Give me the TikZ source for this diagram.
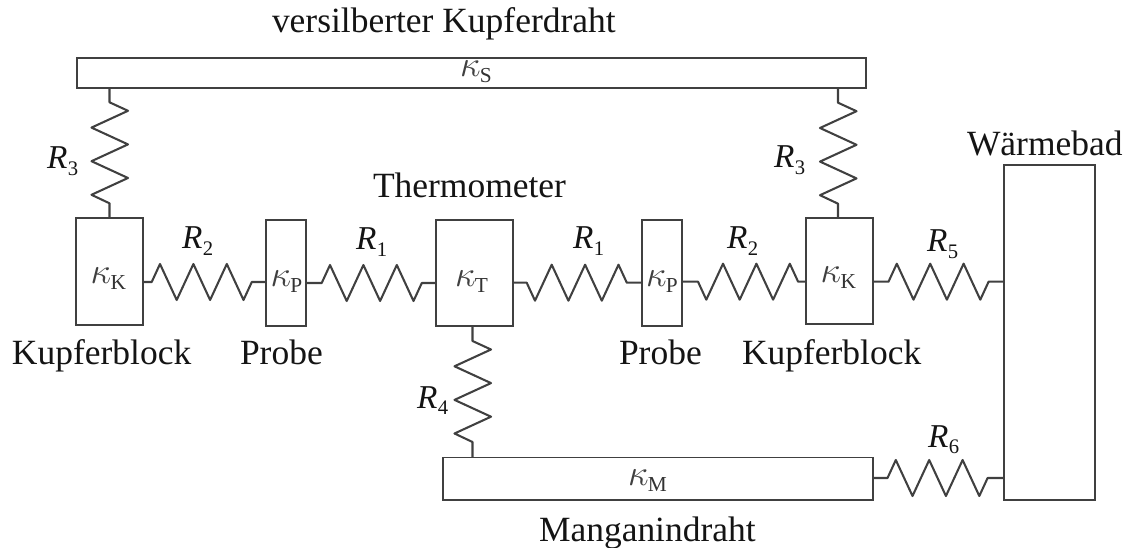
\documentclass[tikz,border=0pt]{standalone}
\usepackage{fontspec}
\usepackage{graphicx}
\setmainfont{Liberation Serif}
\definecolor{wire}{gray}{0.25}
\definecolor{ink}{gray}{0.08}
\newcommand{\bignamefont}{\fontsize{26.6}{30}\selectfont}
\newcommand{\resR}[1]{\fontsize{25}{28}\selectfont\textit{R}\kern0.3pt\raisebox{-5pt}{\fontsize{15.5}{16}\selectfont #1}}
\newcommand{\kapS}[1]{\scalebox{1.1}{\fontsize{26}{28}\selectfont\textcolor{black!75}{$\kappa$}}\kern-0.5pt\raisebox{-4.5pt}{\fontsize{16}{17}\selectfont\textcolor{black!80}{#1}}}
\newcommand{\blockat}[5]{%
  \pgfmathsetmacro{\bx}{(#2+#4)/2}\pgfmathsetmacro{\by}{(#3+#5)/2}%
  \pgfmathsetmacro{\bw}{(#4-#2)*0.75}\pgfmathsetmacro{\bh}{(#5-#3)*0.75}%
  \node[blockbox,minimum width=\bw pt,minimum height=\bh pt] (#1) at (\bx,\by) {};}
\newcommand{\lbl}[4]{\node[textlabel] (#1) at (#2,#3) {#4};}
% from, to, y, x of zigzag start, sign of the first swing (-1 up, 1 down)
\newcommand{\hspring}[5]{%
  \draw[springline] (#1.east |- 0,#3) -- (#4,#3)
    -- ++(8.3,18*#5) -- ++(16.7,-36*#5) -- ++(16.7,36*#5) -- ++(16.7,-36*#5)
    -- ++(16.7,36*#5) -- ++(16.7,-36*#5) -- ++(8.3,18*#5) -- (#2.west |- 0,#3);}
% from (upper), to (lower), x, y of zigzag start
\newcommand{\vspring}[4]{%
  \draw[springline] (#1.south -| #3,0) -- (#3,#4)
    -- ++(18.5,8.5) -- ++(-36.5,16.8) -- ++(36.5,16.8) -- ++(-36.5,16.8)
    -- ++(36.5,16.8) -- ++(-36.5,16.8) -- ++(18,8.5) -- (#2.north -| #3,0);}
\tikzset{
  blockbox/.style={draw=wire,line width=1.15pt,rectangle,inner sep=0pt,outer sep=0pt,fill=white},
  springline/.style={draw=wire,line width=1.55pt,line join=round},
  textlabel/.style={anchor=base west,inner sep=0pt,outer sep=0pt,text=ink,font=\bignamefont},
}
\begin{document}
\begin{tikzpicture}[x=0.75pt,y=-0.75pt]
\useasboundingbox (0,0) rectangle (1130,548);
\blockat{S}{77}{58}{866}{88}
\blockat{KL}{76}{218}{143}{325}
\blockat{PL}{266}{220}{306}{326}
\blockat{T}{436}{220}{513}{326}
\blockat{PR}{642}{220}{682}{326}
\blockat{KR}{806}{218}{873}{324}
\blockat{M}{443}{457.5}{873}{500}
\blockat{B}{1004}{165}{1095}{500}

\hspring{KL}{PL}{282}{151.7}{-1}
\hspring{PL}{T}{283}{321.7}{-1}
\hspring{T}{PR}{282.7}{526.7}{1}
\hspring{PR}{KR}{281.7}{698}{1}
\hspring{KR}{B}{281.7}{888.5}{-1}
\hspring{M}{B}{478}{887.5}{-1}
\vspring{S}{KL}{109.5}{102.3}
\vspring{S}{KR}{838}{102.7}
\vspring{T}{M}{472.5}{341}

\lbl{tS}{272}{33}{versilberter Kupferdraht}
\lbl{tT}{373}{198}{Thermometer}
\lbl{tW}{967}{156}{Wärmebad}
\lbl{tKL}{12}{364}{Kupferblock}
\lbl{tPL}{240}{365}{Probe}
\lbl{tPR}{619}{364}{Probe}
\lbl{tKR}{742}{365}{Kupferblock}
\lbl{tM}{539}{541}{Manganindraht}

\lbl{r3l}{47}{169}{\resR{3}}
\lbl{r3r}{774}{168}{\resR{3}}
\lbl{r2l}{182}{249}{\resR{2}}
\lbl{r1l}{356}{250}{\resR{1}}
\lbl{r1r}{573}{249}{\resR{1}}
\lbl{r2r}{727}{249}{\resR{2}}
\lbl{r5}{927}{252}{\resR{5}}
\lbl{r4}{417}{408}{\resR{4}}
\lbl{r6}{928}{447}{\resR{6}}

\lbl{kS}{460}{77}{\kapS{S}}
\lbl{kKL}{90.7}{284}{\kapS{K}}
\lbl{kPL}{270.5}{287}{\kapS{P}}
\lbl{kT}{455}{287}{\kapS{T}}
\lbl{kPR}{646}{287}{\kapS{P}}
\lbl{kKR}{820.7}{283}{\kapS{K}}
\lbl{kM}{628}{485}{\kapS{M}}
\end{tikzpicture}
\end{document}
